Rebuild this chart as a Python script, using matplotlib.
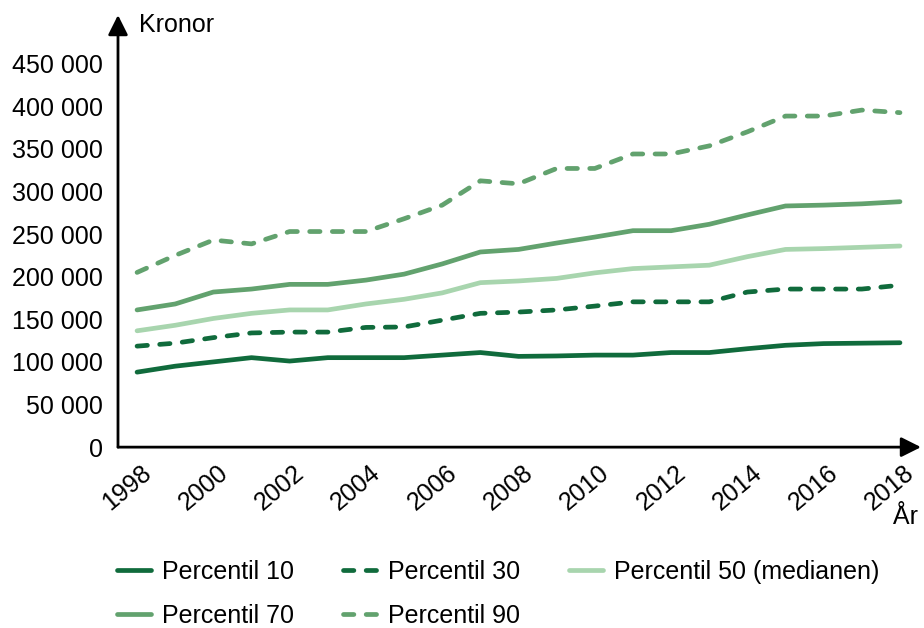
import matplotlib
matplotlib.use("Agg")
import matplotlib.pyplot as plt
from matplotlib.ticker import FuncFormatter
from matplotlib.transforms import ScaledTranslation

plt.rcParams["font.family"] = ["Liberation Sans", "DejaVu Sans"]

years = list(range(1998, 2019))

percentil_10 = [88000, 95000, 100000, 105000, 101000, 105000, 105000, 105000, 108000, 111000,
                106500, 107000, 108000, 108000, 111000, 111000, 115500, 119500, 121500, 122000, 122500]
percentil_30 = [118500, 122000, 128500, 134000, 135000, 135000, 140500, 141000, 149000, 157000,
                158500, 161000, 165500, 170500, 170500, 170500, 182000, 185500, 185500, 185500, 190000]
percentil_50 = [136500, 143000, 151000, 157000, 161000, 161000, 168000, 173500, 181000, 193000,
                195000, 198000, 204500, 209500, 211500, 213500, 223500, 232000, 233000, 234500, 236000]
percentil_70 = [161000, 168000, 182000, 185500, 191000, 191000, 196000, 203000, 215000, 229000,
                232000, 239500, 246500, 254000, 254000, 261500, 272500, 283000, 284000, 285500, 288000]
percentil_90 = [205000, 225000, 243000, 238500, 253000, 253000, 253000, 268000, 284000, 312500,
                309000, 327000, 327000, 344000, 344000, 353500, 370000, 388500, 388500, 395500, 392500]

year_ticks = list(range(1998, 2019, 2))
kronor_ticks = list(range(0, 450001, 50000))

DARK = "#106b3c"
MID = "#62a26e"
LIGHT = "#a8d5ae"
FS = 18


def _kronor_label(value, _pos):
    return f"{int(value):,}".replace(",", " ")


fig = plt.figure(figsize=(9.24, 6.28), dpi=100)
ax = fig.add_axes([0.1277, 0.288, 0.869, 0.688])

line_kw = dict(linewidth=3.4, solid_capstyle="round", dash_capstyle="round")
dash = (2.2, 2.6)

p10, = ax.plot(years, percentil_10, color=DARK, label="Percentil 10", **line_kw)
p30, = ax.plot(years, percentil_30, color=DARK, dashes=dash, label="Percentil 30", **line_kw)
p50, = ax.plot(years, percentil_50, color=LIGHT, label="Percentil 50 (medianen)", **line_kw)
p70, = ax.plot(years, percentil_70, color=MID, label="Percentil 70", **line_kw)
p90, = ax.plot(years, percentil_90, color=MID, dashes=dash, label="Percentil 90", **line_kw)

ax.set_xlim(1997.5, 2018.55)
ax.set_ylim(0, 507000)
ax.set_xticks(year_ticks)
ax.set_yticks(kronor_ticks)
ax.yaxis.set_major_formatter(FuncFormatter(_kronor_label))
ax.tick_params(axis="both", length=0, labelsize=FS, colors="black")
ax.tick_params(axis="x", pad=10)
ax.tick_params(axis="y", pad=11)
shift = ScaledTranslation(-10 / 100, 0, fig.dpi_scale_trans)
for lbl in ax.get_xticklabels():
    lbl.set_rotation(40)
    lbl.set_ha("center")
    lbl.set_transform(lbl.get_transform() + shift)

for side in ["top", "right", "left", "bottom"]:
    ax.spines[side].set_visible(False)

arrow = dict(arrowstyle="-|>", color="black", lw=2, mutation_scale=30, shrinkA=0, shrinkB=0)
ax.annotate("", xy=(1.0, 0.0), xytext=(0.0, 0.0), xycoords="axes fraction",
            textcoords="axes fraction", arrowprops=arrow, annotation_clip=False)
ax.annotate("", xy=(0.0, 1.0), xytext=(0.0, 0.0), xycoords="axes fraction",
            textcoords="axes fraction", arrowprops=arrow, annotation_clip=False)

fig.text(0.150, 0.960, "Kronor", fontsize=FS, ha="left", va="center")
fig.text(0.980, 0.176, "År", fontsize=FS, ha="center", va="center")

handles = [p10, p70, p30, p90, p50]
fig.legend(handles=handles, labels=[h.get_label() for h in handles],
           ncol=3, loc="upper left", bbox_to_anchor=(0.127, 0.109),
           frameon=False, fontsize=FS, handlelength=1.35, handletextpad=0.45,
           columnspacing=1.95, labelspacing=0.8, borderaxespad=0, borderpad=0)

fig.savefig("out.png", dpi=100)
